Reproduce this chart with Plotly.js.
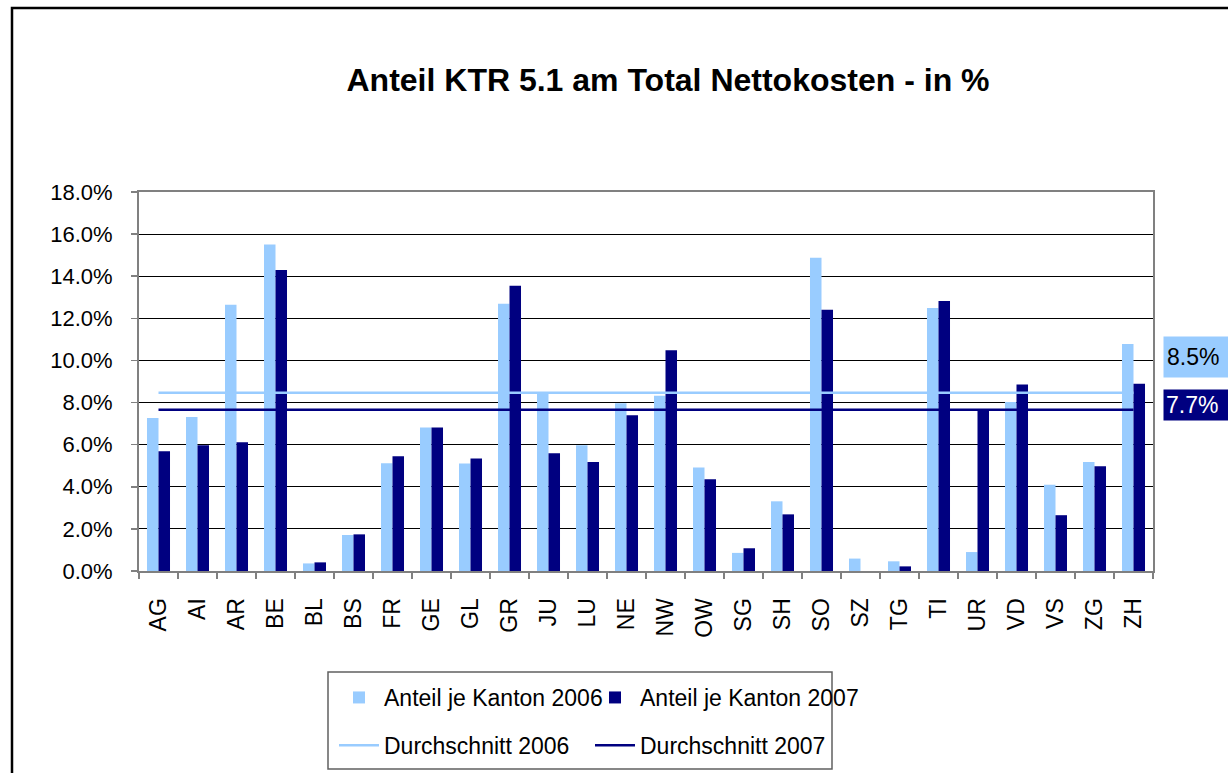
<!DOCTYPE html>
<html>
<head>
<meta charset="utf-8">
<script src="https://cdn.plot.ly/plotly-3.0.1.min.js"></script>
<style>
  html, body { margin: 0; padding: 0; background: #fff; }
  #chart { width: 1228px; height: 773px; }
</style>
</head>
<body>
<div id="chart"></div>
<script>
// ---- data ----
const categories = ["AG","AI","AR","BE","BL","BS","FR","GE","GL","GR","JU","LU","NE","NW","OW","SG","SH","SO","SZ","TG","TI","UR","VD","VS","ZG","ZH"];
const anteil2006 = [7.27,7.31,12.65,15.51,0.36,1.71,5.12,6.81,5.10,12.69,8.46,5.97,7.97,8.32,4.91,0.86,3.31,14.88,0.59,0.46,12.49,0.90,8.03,4.10,5.18,10.78];
const anteil2007 = [5.69,5.97,6.12,14.29,0.41,1.74,5.45,6.81,5.34,13.55,5.59,5.18,7.40,10.49,4.36,1.08,2.69,12.41,0.00,0.22,12.82,7.65,8.86,2.65,4.98,8.89];
const durchschnitt2006 = 8.46;
const durchschnitt2007 = 7.66;
const seriesNames = ["Anteil je Kanton 2006","Anteil je Kanton 2007","Durchschnitt 2006","Durchschnitt 2007"];
const titleText = "Anteil KTR 5.1 am Total Nettokosten - in %";

// ---- styling ----
const LIGHT = "#99CCFF";
const DARK = "#000080";
const FONT = "Liberation Sans, Arial, sans-serif";

// plot area in pixels
const W = 1228, H = 773;
const L = 139, R = 1153, T = 192, B = 571;
const px = x => (x - L) / (R - L);
const py = y => (B - y) / (B - T);

const lineX = [categories[0], categories[categories.length - 1]];

const traces = [
  { type: "bar", name: seriesNames[0], x: categories, y: anteil2006,
    marker: { color: LIGHT }, legend: "legend", legendgroup: "a", hoverinfo: "skip" },
  { type: "bar", name: seriesNames[1], x: categories, y: anteil2007,
    marker: { color: DARK }, legend: "legend2", legendgroup: "c", hoverinfo: "skip" },
  { type: "scatter", mode: "lines", name: seriesNames[2], x: lineX,
    y: lineX.map(() => durchschnitt2006), line: { color: LIGHT, width: 2.5 },
    legend: "legend", legendgroup: "b", hoverinfo: "skip" },
  { type: "scatter", mode: "lines", name: seriesNames[3], x: lineX,
    y: lineX.map(() => durchschnitt2007), line: { color: DARK, width: 2.5 },
    legend: "legend2", legendgroup: "d", hoverinfo: "skip" }
];

const legendCommon = {
  orientation: "v", xanchor: "left", yanchor: "top",
  font: { family: FONT, size: 23, color: "#000" },
  bgcolor: "rgba(0,0,0,0)", borderwidth: 0,
  traceorder: "grouped", tracegroupgap: 15, itemwidth: 40
};

const layout = {
  width: W, height: H,
  margin: { l: L, r: W - R, t: T, b: H - B, pad: 0, autoexpand: false },
  paper_bgcolor: "#fff", plot_bgcolor: "#fff",
  font: { family: FONT, color: "#000" },
  showlegend: true,
  barmode: "group", bargap: 0.41, bargroupgap: 0,
  title: {
    text: "<b>" + titleText + "</b>",
    font: { family: FONT, size: 32, color: "#000" },
    xref: "paper", x: px(668), xanchor: "center",
    yref: "container", y: 1 - 80 / H, yanchor: "middle"
  },
  xaxis: {
    type: "category",
    tickangle: -90,
    tickfont: { family: FONT, size: 23, color: "#000" },
    ticks: "outside", ticklen: 6, tickcolor: "#808080", tickwidth: 1.5,
    tickson: "boundaries",
    ticklabelstandoff: 16,
    showline: true, linecolor: "#808080", linewidth: 2, mirror: true,
    showgrid: false, zeroline: false,
    fixedrange: true, automargin: false
  },
  yaxis: {
    range: [0, 18], dtick: 2, tick0: 0,
    tickformat: ".1f", ticksuffix: "%",
    tickfont: { family: FONT, size: 22, color: "#000" },
    ticks: "outside", ticklen: 6, tickcolor: "#808080", tickwidth: 1.5,
    ticklabelstandoff: 14,
    showline: true, linecolor: "#808080", linewidth: 2, mirror: true,
    showgrid: true, gridcolor: "#000", gridwidth: 1,
    zeroline: false,
    fixedrange: true, automargin: false
  },
  legend: Object.assign({}, legendCommon, { x: px(334), y: py(676) }),
  legend2: Object.assign({}, legendCommon, { x: px(590), y: py(676) }),
  shapes: [
    // outer chart frame (runs off the right and bottom edge)
    { type: "rect", xref: "paper", yref: "paper", layer: "below",
      x0: px(12), x1: px(1240), y0: py(800), y1: py(8),
      line: { color: "#000", width: 2.5 }, fillcolor: "rgba(0,0,0,0)" },
    // legend frame
    { type: "rect", xref: "paper", yref: "paper",
      x0: px(328), x1: px(832), y0: py(769), y1: py(672),
      line: { color: "#606060", width: 1.5 }, fillcolor: "rgba(0,0,0,0)" }
  ],
  annotations: [
    { xref: "paper", yref: "paper", x: px(1163), y: py(357),
      xanchor: "left", yanchor: "middle",
      text: durchschnitt2006.toFixed(1) + "%", showarrow: false, align: "left",
      font: { family: FONT, size: 23, color: "#000" },
      bgcolor: LIGHT, width: 76, height: 34, borderpad: 3 },
    { xref: "paper", yref: "paper", x: px(1163), y: py(405),
      xanchor: "left", yanchor: "middle",
      text: durchschnitt2007.toFixed(1) + "%", showarrow: false, align: "left",
      font: { family: FONT, size: 23, color: "#fff" },
      bgcolor: DARK, width: 76, height: 26, borderpad: 2 }
  ]
};

Plotly.newPlot("chart", traces, layout, { displayModeBar: false, staticPlot: true });
</script>
</body>
</html>
